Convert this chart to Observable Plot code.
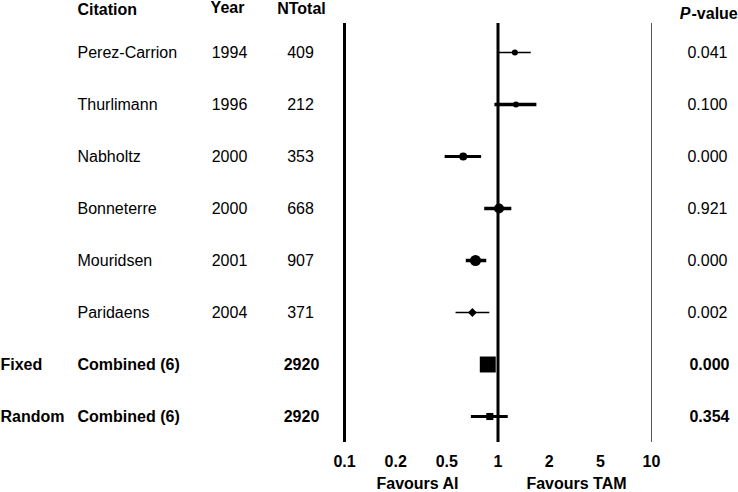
<!DOCTYPE html>
<html>
<head>
<meta charset="utf-8">
<script src="https://cdn.jsdelivr.net/npm/d3@7"></script>
<script src="https://cdn.jsdelivr.net/npm/@observablehq/plot@0.6"></script>
<style>
  html, body { margin: 0; padding: 0; background: #fff; }
  #chart svg { display: block; }
</style>
</head>
<body>
<div id="chart"></div>
<script>
// ---- data ----
const citations = ["Perez-Carrion", "Thurlimann", "Nabholtz", "Bonneterre", "Mouridsen", "Paridaens", "Combined (6)", "Combined (6)"];
const models    = ["", "", "", "", "", "", "Fixed", "Random"];
const years     = ["1994", "1996", "2000", "2000", "2001", "2004", "", ""];
const nTotal    = [409, 212, 353, 668, 907, 371, 2920, 2920];
const estimate  = [1.33, 1.35, 0.66, 1.02, 0.78, 0.75, 0.90, 0.92];
const lower     = [1.02, 0.97, 0.49, 0.87, 0.69, 0.59, 0.85, 0.74];
const upper     = [1.65, 1.76, 0.84, 1.27, 0.89, 0.92, 0.96, 1.20];
const pValues   = ["0.041", "0.100", "0.000", "0.921", "0.000", "0.002", "0.000", "0.354"];
const tickValues = [0.1, 0.2, 0.5, 1, 2, 5, 10];
const favourLabels = ["Favours AI", "Favours TAM"];

// ---- styles (not data) ----
const lineWidth = [1.5, 3.5, 3, 3.5, 3.5, 1.5, 3, 3];
const markerR   = [3, 3, 4, 5, 5.5, 4, 9, 4];
const markerSym = ["circle", "circle", "circle", "circle", "circle", "diamond2", "square", "square"];

const rows = citations.map((c, i) => ({
  i, citation: c, model: models[i], year: years[i], n: nTotal[i],
  est: estimate[i], lo: lower[i], hi: upper[i], p: pValues[i],
  bold: models[i] !== ""
}));
const study = rows.filter(d => !d.bold);
const summary = rows.filter(d => d.bold);

const W = 738, H = 492;
const mL = 344, mR = 87, mT = 23, mB = 50;
const xRange = tickValues.map((_, k) => mL + k * (W - mL - mR) / (tickValues.length - 1));
const font = "'Liberation Sans', Arial, Helvetica, sans-serif";

const txt = (data, opts) => Plot.text(data, {y: "i", lineAnchor: "middle", fontSize: 16, fill: "#000", ...opts});
const lbl = (s, opts) => Plot.text([s], {lineAnchor: "middle", fontSize: 16, fontWeight: "bold", fill: "#000", ...opts});

const chart = Plot.plot({
  width: W, height: H,
  marginLeft: mL, marginRight: mR, marginTop: mT, marginBottom: mB,
  style: {fontFamily: font, fontSize: "16px", color: "#000", background: "#fff"},
  x: {type: "linear", domain: tickValues, range: xRange},
  y: {type: "point", domain: d3.range(rows.length), range: [50, 418], padding: 0, axis: null},
  r: {type: "identity"},
  marks: [
    Plot.ruleX([0.1, 1], {stroke: "#000", strokeWidth: 3}),
    Plot.ruleX([10], {stroke: "#555", strokeWidth: 1}),
    Plot.axisX({ticks: tickValues, tickSize: 0, tickPadding: 13, fontSize: 16, fontWeight: "bold",
                tickFormat: d => String(d), label: null}),
    // confidence intervals
    Plot.ruleY(rows, {y: "i", x1: "lo", x2: "hi", stroke: "#000", strokeWidth: d => lineWidth[d.i]}),
    // point estimates
    Plot.dot(rows.filter(d => markerSym[d.i] === "circle"), {x: "est", y: "i", r: d => markerR[d.i], fill: "#000", stroke: null, symbol: "circle"}),
    Plot.dot(rows.filter(d => markerSym[d.i] === "diamond2"), {x: "est", y: "i", r: d => markerR[d.i], fill: "#000", stroke: null, symbol: "diamond2"}),
    Plot.dot(rows.filter(d => markerSym[d.i] === "square"), {x: "est", y: "i", r: d => markerR[d.i], fill: "#000", stroke: null, symbol: "square"}),
    // headers
    lbl("Citation", {frameAnchor: "top-left", dx: 77 - mL, dy: -14, textAnchor: "start"}),
    lbl("Year", {frameAnchor: "top-left", dx: 227 - mL, dy: -16, textAnchor: "middle"}),
    lbl("NTotal", {frameAnchor: "top-left", dx: 301 - mL, dy: -15, textAnchor: "middle"}),
    lbl("P", {frameAnchor: "top-right", dx: 690 - (W - mR), dy: -10, textAnchor: "end", fontStyle: "italic"}),
    lbl("-value", {frameAnchor: "top-right", dx: 691 - (W - mR), dy: -10, textAnchor: "start"}),
    // table columns: individual studies
    txt(study, {text: "citation", frameAnchor: "left", dx: 77 - mL, textAnchor: "start"}),
    txt(study, {text: "year", frameAnchor: "left", dx: 229 - mL, textAnchor: "middle"}),
    txt(study, {text: d => String(d.n), frameAnchor: "left", dx: 300 - mL, textAnchor: "middle"}),
    txt(study, {text: "p", frameAnchor: "right", dx: 727 - (W - mR), textAnchor: "end"}),
    // table columns: combined rows (bold)
    txt(summary, {text: "model", frameAnchor: "left", dx: 0 - mL, textAnchor: "start", fontWeight: "bold"}),
    txt(summary, {text: "citation", frameAnchor: "left", dx: 77 - mL, textAnchor: "start", fontWeight: "bold"}),
    txt(summary, {text: d => String(d.n), frameAnchor: "left", dx: 301 - mL, textAnchor: "middle", fontWeight: "bold"}),
    txt(summary, {text: "p", frameAnchor: "right", dx: 729 - (W - mR), textAnchor: "end", fontWeight: "bold"}),
    // favours labels
    lbl(favourLabels[0], {frameAnchor: "bottom-left", dx: 417 - mL, dy: 41, textAnchor: "middle"}),
    lbl(favourLabels[1], {frameAnchor: "bottom-left", dx: 576 - mL, dy: 41, textAnchor: "middle"})
  ]
});
document.getElementById("chart").appendChild(chart);
</script>
</body>
</html>
